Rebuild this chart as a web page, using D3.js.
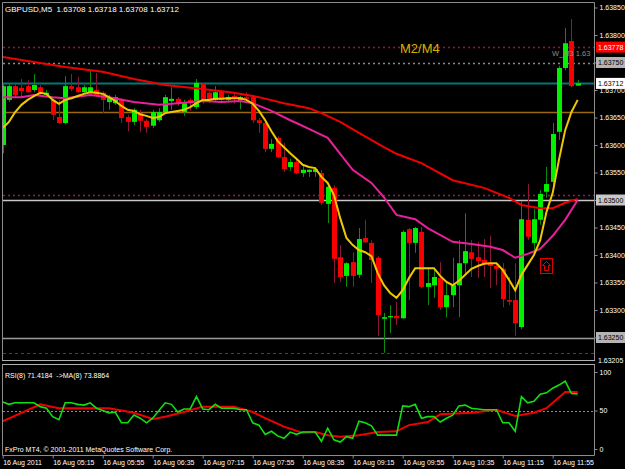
<!DOCTYPE html>
<html><head><meta charset="utf-8">
<script src="https://cdn.jsdelivr.net/npm/d3@7"></script>
<style>
body{margin:0;background:#000;}
svg{display:block;}
text{font-family:"Liberation Sans",Arial,sans-serif;white-space:pre;}
</style></head><body>
<svg id="c" width="625" height="469"></svg>
<script>
// ---------------- DATA ----------------
const titleText = "GBPUSD,M5  1.63708 1.63718 1.63708 1.63712";
const rsiText = "RSI(8) 71.4184  ->MA(8) 73.8864";
const copyText = "FxPro MT4, \u00a9 2001-2011 MetaQuotes Software Corp.";

const opens = [1.63600,1.63682,1.63707,1.63704,1.63707,1.63700,1.63705,1.63691,1.63682,1.63651,
1.63640,1.63707,1.63705,1.63696,1.63696,1.63700,1.63695,1.63678,1.63676,1.63682,
1.63651,1.63642,1.63658,1.63644,1.63635,1.63645,1.63660,1.63680,1.63684,1.63660,
1.63682,1.63669,1.63711,1.63695,1.63682,1.63698,1.63682,1.63689,1.63682,1.63687,
1.63687,1.63645,1.63640,1.63593,1.63613,1.63578,1.63560,1.63569,1.63549,1.63551,
1.63551,1.63549,1.63493,1.63522,1.63396,1.63362,1.63387,1.63364,1.63431,1.63422,
1.63395,1.63284,1.63287,1.63289,1.63285,1.63447,1.63422,1.63442,1.63342,1.63345,
1.63358,1.63305,1.63327,1.63345,1.63385,1.63405,1.63396,1.63391,1.63384,1.63380,
1.63375,1.63318,1.63318,1.63269,1.63464,1.63422,1.63464,1.63515,1.63533,1.63624,
1.63740,1.63789,1.63708];
const highs = [1.63711,1.63711,1.63711,1.63720,1.63718,1.63729,1.63709,1.63700,1.63685,1.63682,
1.63725,1.63729,1.63724,1.63709,1.63735,1.63731,1.63698,1.63691,1.63691,1.63685,
1.63655,1.63667,1.63664,1.63647,1.63664,1.63667,1.63691,1.63705,1.63687,1.63682,
1.63685,1.63720,1.63713,1.63698,1.63707,1.63700,1.63691,1.63695,1.63689,1.63696,
1.63691,1.63649,1.63644,1.63611,1.63616,1.63604,1.63575,1.63573,1.63564,1.63556,
1.63558,1.63555,1.63527,1.63527,1.63418,1.63387,1.63405,1.63449,1.63464,1.63427,
1.63398,1.63295,1.63309,1.63315,1.63445,1.63449,1.63451,1.63451,1.63376,1.63373,
1.63387,1.63349,1.63395,1.63427,1.63476,1.63427,1.63424,1.63429,1.63435,1.63385,
1.63385,1.63360,1.63385,1.63498,1.63529,1.63484,1.63518,1.63560,1.63640,1.63744,
1.63813,1.63829,1.63718];
const lows = [1.63585,1.63678,1.63687,1.63687,1.63695,1.63696,1.63689,1.63689,1.63645,1.63638,
1.63638,1.63698,1.63695,1.63693,1.63695,1.63689,1.63658,1.63664,1.63673,1.63640,
1.63625,1.63636,1.63624,1.63622,1.63631,1.63642,1.63658,1.63664,1.63671,1.63653,
1.63662,1.63665,1.63675,1.63676,1.63678,1.63680,1.63678,1.63675,1.63665,1.63676,
1.63640,1.63622,1.63587,1.63587,1.63576,1.63551,1.63553,1.63547,1.63542,1.63542,
1.63542,1.63491,1.63458,1.63349,1.63351,1.63342,1.63342,1.63358,1.63422,1.63349,
1.63253,1.63222,1.63258,1.63273,1.63284,1.63318,1.63404,1.63340,1.63309,1.63322,
1.63300,1.63287,1.63305,1.63287,1.63367,1.63360,1.63358,1.63360,1.63340,1.63345,
1.63305,1.63309,1.63253,1.63265,1.63427,1.63400,1.63455,1.63504,1.63527,1.63609,
1.63736,1.63705,1.63708];
const closes = [1.63707,1.63707,1.63691,1.63698,1.63696,1.63709,1.63693,1.63695,1.63655,1.63640,
1.63707,1.63702,1.63696,1.63705,1.63705,1.63691,1.63682,1.63687,1.63687,1.63649,
1.63642,1.63664,1.63644,1.63633,1.63660,1.63660,1.63687,1.63684,1.63675,1.63676,
1.63676,1.63713,1.63682,1.63682,1.63696,1.63682,1.63687,1.63684,1.63687,1.63684,
1.63645,1.63640,1.63593,1.63602,1.63578,1.63556,1.63569,1.63549,1.63555,1.63555,
1.63556,1.63495,1.63524,1.63393,1.63360,1.63385,1.63362,1.63429,1.63423,1.63391,
1.63291,1.63287,1.63289,1.63285,1.63442,1.63422,1.63449,1.63342,1.63349,1.63360,
1.63305,1.63327,1.63345,1.63385,1.63407,1.63393,1.63389,1.63384,1.63380,1.63375,
1.63320,1.63315,1.63276,1.63465,1.63433,1.63465,1.63511,1.63529,1.63620,1.63740,
1.63785,1.63707,1.63712];

// fast MA (yellow), one value per bar
const maFast = [1.63631,1.63642,1.63660,1.63673,1.63682,1.63689,1.63695,1.63693,1.63682,1.63675,
1.63682,1.63685,1.63689,1.63693,1.63696,1.63695,1.63693,1.63687,1.63680,1.63671,
1.63664,1.63662,1.63656,1.63653,1.63649,1.63651,1.63658,1.63660,1.63662,1.63664,
1.63669,1.63676,1.63682,1.63682,1.63684,1.63684,1.63685,1.63685,1.63685,1.63682,
1.63675,1.63662,1.63645,1.63625,1.63607,1.63596,1.63585,1.63575,1.63564,1.63560,
1.63558,1.63542,1.63531,1.63509,1.63467,1.63431,1.63418,1.63409,1.63405,1.63398,
1.63367,1.63345,1.63331,1.63322,1.63336,1.63358,1.63376,1.63376,1.63376,1.63376,
1.63362,1.63351,1.63345,1.63353,1.63364,1.63375,1.63380,1.63384,1.63385,1.63385,
1.63373,1.63355,1.63336,1.63364,1.63382,1.63400,1.63427,1.63478,1.63513,1.63573,
1.63627,1.63660,1.63682];
// medium MA (magenta), read at these bars
const maMidBars = [0,3,5,8,10,14,17,21,25,28,32,35,38,40,43,46,47,50,52,54,56,59,61,63,66,68,72,75,78,80,82,84,86,88,90,92];
const maMid = [1.63687,1.63687,1.63691,1.63687,1.63685,1.63691,1.63687,1.63678,1.63673,1.63676,1.63680,1.63678,1.63680,1.63676,1.63662,1.63645,1.63640,1.63624,1.63613,1.63584,1.63555,1.63531,1.63505,1.63473,1.63465,1.63449,1.63424,1.63420,1.63415,1.63409,1.63395,1.63402,1.63411,1.63435,1.63464,1.63500];
// slow MA (red), read at these bars
const maSlowBars = [0,5,10,16,21,26,32,37,41,45,49,51,54,57,61,63,67,72,77,81,83,86,88,90,92];
const maSlow = [1.63760,1.63751,1.63742,1.63733,1.63720,1.63709,1.63702,1.63695,1.63687,1.63676,1.63667,1.63658,1.63642,1.63622,1.63596,1.63584,1.63567,1.63536,1.63522,1.63504,1.63491,1.63485,1.63485,1.63495,1.63502];

// RSI(8), one value per bar
const rsi = [61,58,60,60,60,60,55,53,42,38,60,60,58,57,60,53,50,47,48,34,
34,44,40,34,40,50,60,58,48,52,52,68,52,51,58,53,53,53,51,51,
34,31,19,23,17,14,22,19,22,22,22,10,27,12,9,16,14,36,34,30,
18,18,18,18,56,55,58,40,42,42,35,40,44,56,57,53,52,51,51,51,
34,34,23,68,60,62,71,73,79,83,88,72,71.4184];
const rsiMaBars = [0,3,6,9,13,17,21,24,26,29,32,37,40,42,45,48,50,52,54,57,60,63,65,68,70,75,79,82,85,87,90,92];
const rsiMa = [36,47,58,53,53,53,47,39,42,48,55,55,48,40,29,21,22,18,16,18,22,23,31,35,45,47,51,43,47,53,74,73.8864];

// horizontal levels
const lvlRedDot = 1.63778, lvlGrayDot = 1.63750, lvlBid = 1.63712, lvlOrange = 1.63660,
      lvlPurpleDot = 1.63509, lvlWhite = 1.63500, lvlGray = 1.63250, lvlGreenDash = 1.63222;

const priceTicks = [1.63850,1.63800,1.63750,1.63700,1.63650,1.63600,1.63550,1.63500,1.63450,1.63400,1.63350,1.63300,1.63250];
const priceBoxes = [1.63778,1.63750,1.63712,1.63500,1.63250];
const bottomPriceLabel = "1.63205";
const rsiTicks = [100,50,0];
const timeTickBars = [0,8,16,24,32,40,48,56,64,72,80,88];
const timeLabels = ["16 Aug 2011","16 Aug 05:15","16 Aug 05:55","16 Aug 06:35","16 Aug 07:15","16 Aug 07:55",
  "16 Aug 08:35","16 Aug 09:15","16 Aug 09:55","16 Aug 10:35","16 Aug 11:15","16 Aug 11:55"];
const objLabel = "M2/M4";
const objLabel2 = "W_M3 1.63";

// ---------------- DRAW ----------------
const W = 625, H = 469;
const svg = d3.select("#c");
svg.append("rect").attr("width", W).attr("height", H).attr("fill", "#000");

const x = d3.scaleLinear().domain([0, 92]).range([2.7, 577.7]);
const y = d3.scaleLinear().domain([1.6325, 1.6385]).range([337.5, 7.5]);
const yr = d3.scaleLinear().domain([0, 100]).range([449, 372]);

const defs = svg.append("defs");
defs.append("clipPath").attr("id", "cm").append("rect").attr("x", 3).attr("y", 3).attr("width", 591).attr("height", 357);
defs.append("clipPath").attr("id", "cr").append("rect").attr("x", 3).attr("y", 365).attr("width", 591).attr("height", 90);

const gm = svg.append("g").attr("clip-path", "url(#cm)");
const gr = svg.append("g").attr("clip-path", "url(#cr)");

// horizontal level lines
function hline(g, p, color, width, dash) {
  const yy = Math.round(y(p)) + 0.5;
  g.append("line").attr("x1", 3).attr("x2", 594).attr("y1", yy).attr("y2", yy)
    .attr("stroke", color).attr("stroke-width", width).attr("stroke-dasharray", dash || null);
}
hline(gm, lvlRedDot, "#a0103a", 1.3, "2,3");
hline(gm, lvlGrayDot, "#8a8a8a", 1.3, "2,3");
hline(gm, lvlBid, "#007878", 2);
hline(gm, lvlOrange, "#9a6a10", 1.5);
hline(gm, lvlPurpleDot, "#8a2060", 1.3, "2,3");
hline(gm, lvlWhite, "#c8c8c8", 1.3);
hline(gm, lvlGray, "#9a9a9a", 1.3);
hline(gm, lvlGreenDash, "#0a6a0a", 1, "3,3");

// candles
const idx = d3.range(opens.length);
const cg = gm.append("g");
cg.selectAll("line.wick").data(idx).join("line")
  .attr("x1", i => Math.round(x(i)) + 0.5).attr("x2", i => Math.round(x(i)) + 0.5)
  .attr("y1", i => y(highs[i])).attr("y2", i => y(lows[i]))
  .attr("stroke", i => closes[i] >= opens[i] ? "#0b8a0b" : "#8a1838").attr("stroke-width", 1);
cg.selectAll("rect.body").data(idx).join("rect")
  .attr("x", i => Math.round(x(i)) - 2).attr("width", 5)
  .attr("y", i => Math.min(y(opens[i]), y(closes[i])))
  .attr("height", i => Math.max(1.2, Math.abs(y(opens[i]) - y(closes[i]))))
  .attr("fill", i => closes[i] >= opens[i] ? "#00f000" : "#f80000");

// moving averages
const ln = d3.line().x(d => x(d[0])).y(d => y(d[1]));
gm.append("path").attr("d", ln(maSlowBars.map((b, k) => [b, maSlow[k]])))
  .attr("fill", "none").attr("stroke", "#f00000").attr("stroke-width", 2);
gm.append("path").attr("d", ln(maMidBars.map((b, k) => [b, maMid[k]])))
  .attr("fill", "none").attr("stroke", "#e8209a").attr("stroke-width", 2);
gm.append("path").attr("d", ln(maFast.map((v, i) => [i, v])))
  .attr("fill", "none").attr("stroke", "#f0c800").attr("stroke-width", 2);

// object texts / arrow
gm.append("text").attr("x", 400).attr("y", 53).attr("font-size", 13).attr("fill", "#d8b000").text(objLabel);
gm.append("text").attr("x", 552).attr("y", 56).attr("font-size", 7.5).attr("fill", "#8c8c8c").text(objLabel2);
gm.append("rect").attr("x", 540.5).attr("y", 258.5).attr("width", 12).attr("height", 15)
  .attr("fill", "none").attr("stroke", "#e00000");
gm.append("path").attr("d", "M546.5,261.5 L550.5,265.5 L548.5,265.5 L548.5,270.5 L544.5,270.5 L544.5,265.5 L542.5,265.5 Z")
  .attr("fill", "none").attr("stroke", "#e00000");

// title
svg.append("text").attr("x", 5).attr("y", 12).attr("font-size", 8).attr("fill", "#fff").text(titleText);

// RSI panel
gr.append("line").attr("x1", 3).attr("x2", 594).attr("y1", Math.round(yr(50)) + 0.5).attr("y2", Math.round(yr(50)) + 0.5)
  .attr("stroke", "#8a8a8a").attr("stroke-dasharray", "2,2");
const lr = d3.line().x(d => x(d[0])).y(d => yr(d[1]));
gr.append("path").attr("d", lr(rsiMaBars.map((b, k) => [b, rsiMa[k]])))
  .attr("fill", "none").attr("stroke", "#f00000").attr("stroke-width", 2);
gr.append("path").attr("d", lr(rsi.map((v, i) => [i, v])))
  .attr("fill", "none").attr("stroke", "#10e010").attr("stroke-width", 1.6);
svg.append("text").attr("x", 5).attr("y", 378).attr("font-size", 7).attr("fill", "#fff").text(rsiText);
svg.append("text").attr("x", 5).attr("y", 452).attr("font-size", 7).attr("fill", "#fff").text(copyText);

// frames
const fr = svg.append("g").attr("fill", "none").attr("stroke", "#8c8c8c");
fr.append("path").attr("d", "M2.5,361 L2.5,2.5 L594.5,2.5 L594.5,361");
fr.append("line").attr("x1", 2).attr("x2", 595).attr("y1", 360.5).attr("y2", 360.5).attr("stroke", "#b0b0b0");
fr.append("line").attr("x1", 2).attr("x2", 595).attr("y1", 364.5).attr("y2", 364.5).attr("stroke", "#b0b0b0");
fr.append("path").attr("d", "M2.5,364.5 L2.5,455.5 L594.5,455.5 L594.5,364.5");

// price axis
const pa = svg.append("g").attr("transform", "translate(594.5,0)")
  .call(d3.axisRight(y).tickValues(priceTicks).tickSize(3).tickPadding(2).tickFormat(d => d.toFixed(5)));
pa.select(".domain").remove();
pa.selectAll("line").attr("stroke", "#8c8c8c");
pa.selectAll("text").attr("fill", "#fff").attr("font-size", 7).attr("font-family", "Liberation Sans, Arial, sans-serif");

const boxStyle = {1.63778: ["#ff0000", "#fff"], 1.6375: ["#b4b4b4", "#000"], 1.63712: ["#ffffff", "#000"],
  1.635: ["#c8c8c8", "#000"], 1.6325: ["#b4b4b4", "#000"]};
priceBoxes.forEach(p => {
  const st = boxStyle[p];
  const yy = y(p);
  svg.append("rect").attr("x", 596).attr("y", yy - 5.5).attr("width", 29).attr("height", 11).attr("fill", st[0]);
  svg.append("text").attr("x", 598).attr("y", yy + 2.5).attr("font-size", 7).attr("fill", st[1]).text(p.toFixed(5));
});
svg.append("text").attr("x", 598).attr("y", 363).attr("font-size", 7).attr("fill", "#fff").text(bottomPriceLabel);

// RSI axis
const ra = svg.append("g").attr("transform", "translate(594.5,0)")
  .call(d3.axisRight(yr).tickValues(rsiTicks).tickSize(3).tickPadding(2));
ra.select(".domain").remove();
ra.selectAll("line").attr("stroke", "#8c8c8c");
ra.selectAll("text").attr("fill", "#fff").attr("font-size", 7).attr("font-family", "Liberation Sans, Arial, sans-serif");

// time axis
const ta = svg.append("g").attr("transform", "translate(0,455.5)")
  .call(d3.axisBottom(x).tickValues(timeTickBars).tickSize(3).tickPadding(2).tickFormat((d, k) => timeLabels[k]));
ta.select(".domain").remove();
ta.selectAll("line").attr("stroke", "#8c8c8c");
ta.selectAll("text").attr("fill", "#fff").attr("font-size", 7).attr("text-anchor", "start")
  .attr("font-family", "Liberation Sans, Arial, sans-serif");
</script>
</body></html>
